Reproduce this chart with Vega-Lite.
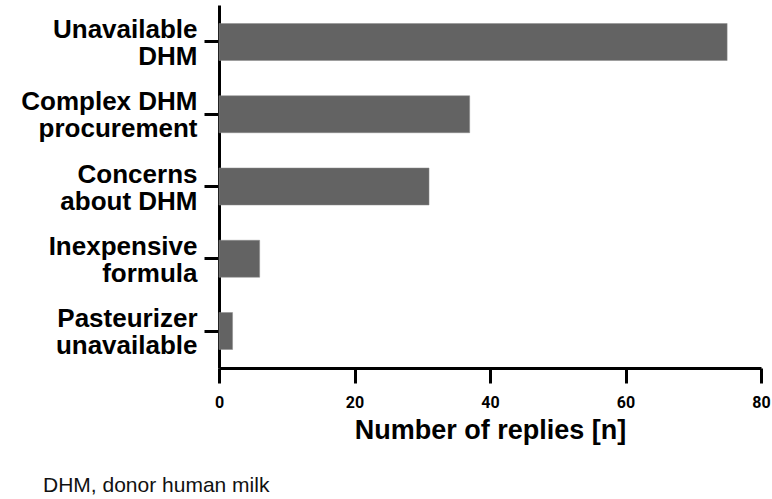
{
  "$schema": "https://vega.github.io/schema/vega-lite/v6.json",
  "autosize": "none",
  "padding": {"left": 219, "top": 5, "right": 11, "bottom": 131},
  "width": 542,
  "height": 363,
  "background": "white",
  "title": {
    "text": "DHM, donor human milk",
    "orient": "bottom",
    "anchor": "start",
    "frame": "group",
    "dx": -176,
    "offset": 32,
    "font": "Liberation Sans",
    "fontSize": 21,
    "fontWeight": "normal",
    "color": "#111111"
  },
  "data": {
    "values": [
      {"reason": "Unavailable|DHM", "n": 75},
      {"reason": "Complex DHM|procurement", "n": 37},
      {"reason": "Concerns|about DHM", "n": 31},
      {"reason": "Inexpensive|formula", "n": 6},
      {"reason": "Pasteurizer|unavailable", "n": 2}
    ]
  },
  "mark": {"type": "bar", "color": "#636363", "stroke": "#8a8a8a", "strokeWidth": 0.5},
  "encoding": {
    "y": {
      "field": "reason",
      "type": "nominal",
      "sort": null,
      "scale": {"paddingInner": 0.488, "paddingOuter": 0.256},
      "axis": {
        "title": null,
        "labelExpr": "split(datum.label, '|')",
        "labelFont": "Liberation Sans",
        "labelFontWeight": "bold",
        "labelFontSize": 26,
        "labelLineHeight": 27,
        "labelBaseline": "middle",
        "labelOffset": -12,
        "labelColor": "#000000",
        "labelPadding": 7,
        "labelLimit": 300,
        "domainColor": "#000000",
        "domainWidth": 3,
        "tickColor": "#000000",
        "tickWidth": 3,
        "tickSize": 15
      }
    },
    "x": {
      "field": "n",
      "type": "quantitative",
      "scale": {"domain": [0, 80]},
      "axis": {
        "values": [0, 20, 40, 60, 80],
        "grid": false,
        "title": "Number of replies [n]",
        "titleFont": "Liberation Sans",
        "titleFontWeight": "bold",
        "titleFontSize": 27,
        "titleColor": "#000000",
        "titlePadding": 7,
        "labelFont": "Roboto",
        "labelFontWeight": "bold",
        "labelFontSize": 16,
        "labelColor": "#000000",
        "labelPadding": 11,
        "labelFlush": false,
        "domainColor": "#000000",
        "domainWidth": 3,
        "tickColor": "#000000",
        "tickWidth": 3,
        "tickSize": 15
      }
    }
  },
  "config": {"view": {"stroke": null}}
}
